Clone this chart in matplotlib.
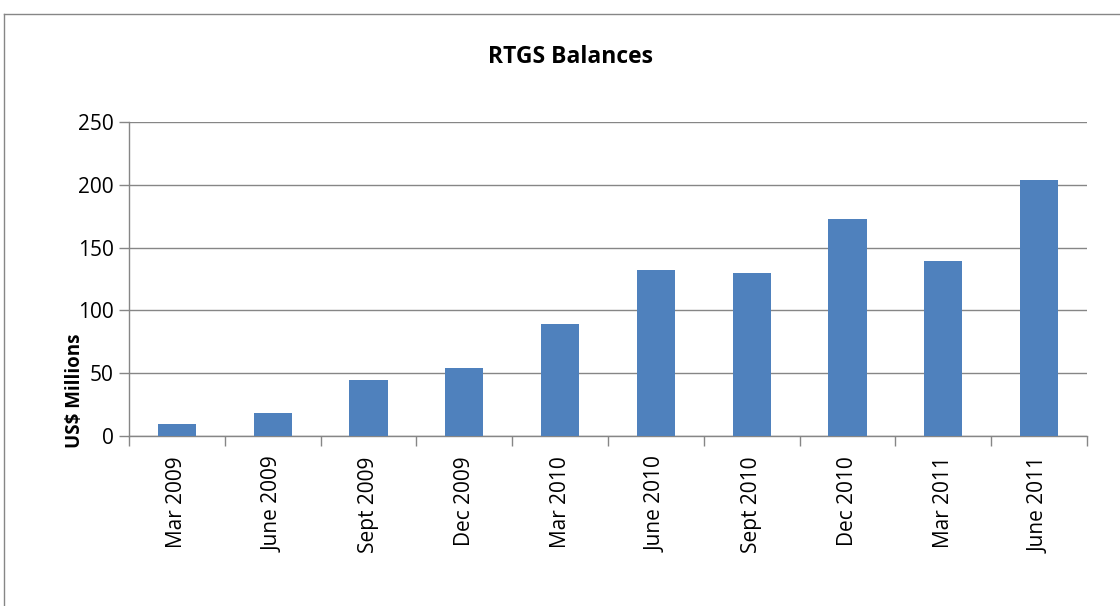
import matplotlib
matplotlib.use("Agg")
import matplotlib.pyplot as plt
from matplotlib.lines import Line2D

categories = ["Mar 2009", "June 2009", "Sept 2009", "Dec 2009", "Mar 2010",
              "June 2010", "Sept 2010", "Dec 2010", "Mar 2011", "June 2011"]
values = [9.3, 18.1, 44.4, 54.0, 89.1, 132.2, 129.8, 172.9, 139.4, 204.0]
yticks = [0, 50, 100, 150, 200, 250]

W, H = 1120, 606
fig = plt.figure(figsize=(W / 100, H / 100), dpi=100)
plt.rcParams['font.family'] = ['Open Sans', 'DejaVu Sans']

left, right, top, bottom = 129, 1087, 122.3, 435.7
ax = fig.add_axes([left / W, 1 - bottom / H, (right - left) / W, (bottom - top) / H])

x = list(range(len(categories)))
ax.bar(x, values, width=0.4, color="#4F81BD", zorder=3)
ax.set_xlim(-0.5, len(categories) - 0.5)
ax.set_ylim(0, 250)
ax.set_yticks(yticks)
ax.set_yticklabels([str(t) for t in yticks], fontsize=15)
ax.yaxis.grid(True, color="#868686", linewidth=1, zorder=0)
ax.set_axisbelow(True)

ax.set_xticks([i - 0.5 for i in range(len(categories) + 1)])
ax.set_xticklabels([])
ax.set_xticks(x, minor=True)
ax.set_xticklabels(categories, minor=True, rotation=90, fontsize=15, va="top", ha="center")
ax.tick_params(axis="x", which="minor", length=0, pad=15)
ax.tick_params(axis="x", which="major", length=7, color="#868686", width=1)
ax.tick_params(axis="y", length=7, color="#868686", width=1, pad=4)

for s in ["top", "right"]:
    ax.spines[s].set_visible(False)
for s in ["left", "bottom"]:
    ax.spines[s].set_color("#868686")
    ax.spines[s].set_linewidth(1)

fig.text(571 / W, 1 - 57 / H, "RTGS Balances", ha="center", va="center",
         fontsize=16.5, fontweight="bold")
fig.text(75 / W, 1 - 391 / H, "US$ Millions", ha="center", va="center",
         rotation=90, fontsize=13.5, fontweight="bold")

fig.add_artist(Line2D([4 / W, 1], [1 - 14 / H, 1 - 14 / H], color="#868686", linewidth=1,
                      transform=fig.transFigure))
fig.add_artist(Line2D([4 / W, 4 / W], [0, 1 - 14 / H], color="#868686", linewidth=1,
                      transform=fig.transFigure))

fig.savefig("out.png", dpi=100)
